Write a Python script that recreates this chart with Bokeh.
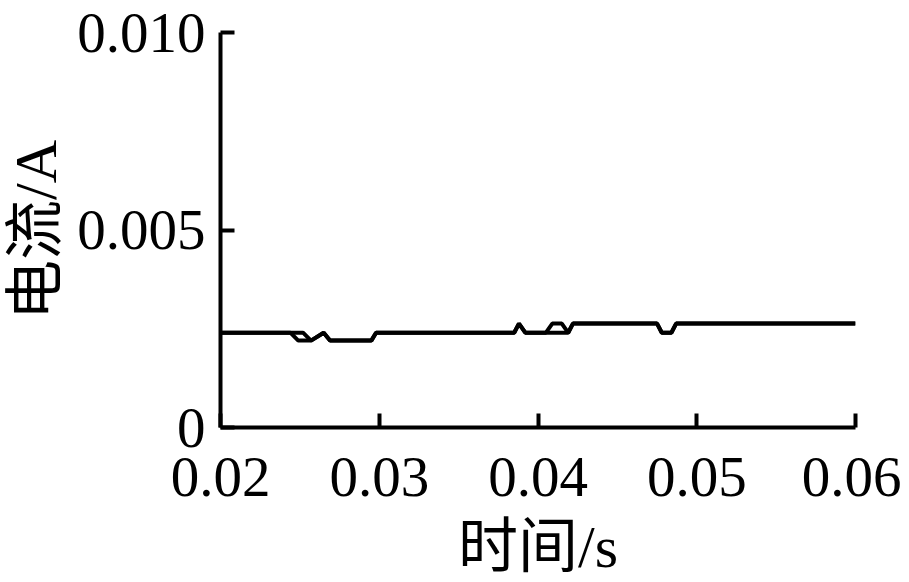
from bokeh.plotting import figure
from bokeh.models import FixedTicker, Range1d
from bokeh.embed import file_html
from bokeh.resources import INLINE

# Time (s) and current (A); two overlapping traces
time_a = [0.0200, 0.0244, 0.0249, 0.0257, 0.0265, 0.0269, 0.0295, 0.0298,
          0.0385, 0.0388, 0.0392, 0.0405, 0.0409, 0.0415, 0.0419, 0.0422,
          0.0475, 0.0478, 0.0484, 0.0487, 0.0600]
current_a = [0.00240, 0.00240, 0.00220, 0.00220, 0.00240, 0.00220, 0.00220, 0.00240,
             0.00240, 0.00263, 0.00240, 0.00240, 0.00263, 0.00263, 0.00240, 0.00263,
             0.00263, 0.00240, 0.00240, 0.00263, 0.00263]

time_b = [0.0200, 0.0252, 0.0257, 0.0265, 0.0269, 0.0295, 0.0298,
          0.0385, 0.0388, 0.0392, 0.0419, 0.0422,
          0.0475, 0.0478, 0.0484, 0.0487, 0.0600]
current_b = [0.00240, 0.00240, 0.00220, 0.00240, 0.00220, 0.00220, 0.00240,
             0.00240, 0.00263, 0.00240, 0.00240, 0.00263,
             0.00263, 0.00240, 0.00240, 0.00263, 0.00263]

x_ticks = [0.02, 0.03, 0.04, 0.05, 0.06]
x_tick_labels = ["0.02", "0.03", "0.04", "0.05", "0.06"]
y_ticks = [0.0, 0.005, 0.010]
y_tick_labels = ["0", "0.005", "0.010"]

x_label = "时间/s"
y_label = "电流/A"

p = figure(width=893, height=566, output_backend="svg", toolbar_location=None,
           x_range=Range1d(0.02, 0.06), y_range=Range1d(0.0, 0.010),
           frame_width=635, frame_height=395,
           min_border_left=212, min_border_top=32, min_border_right=46,
           min_border_bottom=10)

p.line(time_a, current_a, line_color="black", line_width=4)
p.line(time_b, current_b, line_color="black", line_width=4)

p.outline_line_color = None
p.xgrid.grid_line_color = None
p.ygrid.grid_line_color = None
p.background_fill_color = "white"
p.border_fill_color = "white"

serif = "Liberation Serif"
label_font = "Liberation Serif, Noto Sans CJK SC"

for ax in (p.xaxis[0], p.yaxis[0]):
    ax.axis_line_width = 4
    ax.axis_line_color = "black"
    ax.major_tick_line_width = 4
    ax.major_tick_line_color = "black"
    ax.major_tick_in = 14
    ax.major_tick_out = 0
    ax.minor_tick_line_color = None
    ax.major_label_text_font = serif
    ax.major_label_text_font_size = "57px"
    ax.major_label_text_color = "black"
    ax.axis_label_text_font = label_font
    ax.axis_label_text_font_size = "60px"
    ax.axis_label_text_font_style = "normal"
    ax.axis_label_text_color = "black"

p.xaxis[0].ticker = FixedTicker(ticks=x_ticks)
p.xaxis[0].major_label_overrides = {t: l for t, l in zip(x_ticks, x_tick_labels)}
p.xaxis[0].axis_label = x_label
p.xaxis[0].major_label_standoff = 30
p.xaxis[0].axis_label_standoff = 15

p.yaxis[0].ticker = FixedTicker(ticks=y_ticks)
p.yaxis[0].major_label_overrides = {t: l for t, l in zip(y_ticks, y_tick_labels)}
p.yaxis[0].axis_label = y_label
p.yaxis[0].major_label_standoff = 15
p.yaxis[0].axis_label_standoff = 5

open("out.html", "w").write(file_html(p, INLINE))
